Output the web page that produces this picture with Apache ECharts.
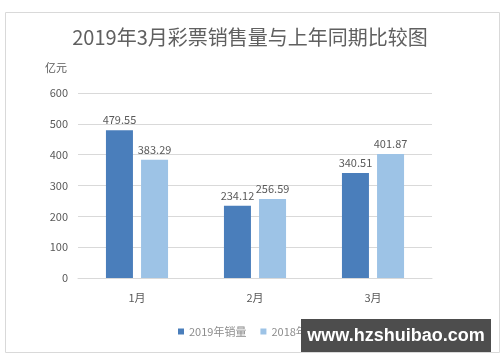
<!DOCTYPE html>
<html><head><meta charset="utf-8">
<script src="https://cdn.jsdelivr.net/npm/echarts@6/dist/echarts.min.js"></script>
<style>html,body{margin:0;padding:0;background:#fff}#c{width:500px;height:362px}</style>
</head><body><div id="c"></div>
<script>
const categories = ['1月', '2月', '3月'];
const sales2019 = [479.55, 234.12, 340.51];
const sales2018 = [383.29, 256.59, 401.87];
const yTicks = [0, 100, 200, 300, 400, 500, 600];
const seriesNames = ['2019年销量', '2018年销量'];

const chart = echarts.init(document.getElementById('c'), null, {renderer: 'canvas'});
const font = '"Noto Sans CJK SC", "Liberation Sans", sans-serif';
const lbl = {show: true, position: 'top', color: '#595959', fontSize: 11, fontFamily: font,
  formatter: p => p.value.toFixed(2)};
chart.setOption({
  animation: false,
  title: {text: '2019年3月彩票销售量与上年同期比较图', left: 'center', top: 22,
    textStyle: {fontSize: 20, fontWeight: 'normal', color: '#606060', fontFamily: font}},
  legend: {bottom: 20, left: 173, itemWidth: 6, itemHeight: 6, itemGap: 14, icon: 'rect',
    textStyle: {color: '#8c8c8c', fontSize: 11, fontFamily: font}, data: seriesNames},
  grid: {left: 78, right: 68, top: 93, bottom: 84},
  xAxis: {type: 'category', data: categories,
    axisLine: {lineStyle: {color: '#d9d9d9'}}, axisTick: {show: false},
    axisLabel: {color: '#595959', fontSize: 11, margin: 14, fontFamily: font}},
  yAxis: {type: 'value', min: yTicks[0], max: yTicks[yTicks.length - 1], interval: 100,
    name: '亿元', nameLocation: 'end', nameGap: 20,
    nameTextStyle: {color: '#595959', fontSize: 11, align: 'right', padding: [0, 11, 0, 0], fontFamily: font},
    axisLine: {show: false}, axisTick: {show: false},
    axisLabel: {color: '#595959', fontSize: 11, margin: 10, fontFamily: font},
    splitLine: {lineStyle: {color: '#d9d9d9'}}},
  series: [
    {name: seriesNames[0], type: 'bar', data: sales2019, barWidth: 27, barGap: '30%',
      itemStyle: {color: '#4a7ebb'}, label: lbl},
    {name: seriesNames[1], type: 'bar', data: sales2018, barWidth: 27,
      itemStyle: {color: '#9dc3e6'}, label: lbl}
  ],
  graphic: [
    {type: 'rect', left: 3, top: 10, shape: {width: 494, height: 340},
      style: {fill: 'none', stroke: '#d9d9d9', lineWidth: 1}, z: -1},
    {type: 'rect', left: 301, top: 319, shape: {width: 190, height: 33},
      style: {fill: '#4d4d4d'}, z: 100},
    {type: 'text', x: 396, y: 336, z: 101,
      style: {text: 'www.hzshuibao.com', fill: '#ffffff', align: 'center', verticalAlign: 'middle',
        font: 'bold 18px "Liberation Sans", sans-serif'}}
  ]
});
</script></body></html>
